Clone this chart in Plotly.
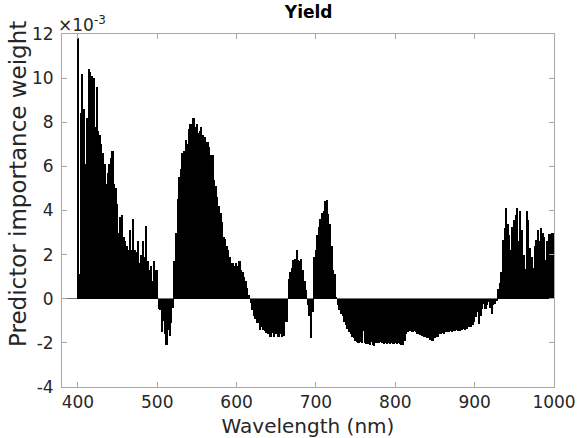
import numpy as np
import plotly.graph_objects as go

# wavelengths 400..1000 nm, 2 nm step
wavelength = np.arange(400, 1001, 2)

# predictor importance weight, in units of 1e-3
weight_e3 = [
    11.8, 1.1, 8.4, 10.2, 8.6, 6.1, 8.2, 10.4, 10.3, 10.1,
    10.0, 7.8, 9.6, 7.6, 7.4, 7.0, 6.6, 6.1, 5.2, 5.7,
    6.1, 6.4, 6.7, 5.2, 5.0, 4.3, 3.0, 3.7, 3.8, 2.8,
    2.6, 2.4, 2.2, 3.1, 2.2, 3.6, 2.2, 2.1, 2.6, 1.6,
    2.0, 2.6, 1.9, 3.3, 1.7, 1.3, 1.5, 0.8, 1.7, 1.3,
    # 500
    1.3, -0.45, -0.5, -1.5, -1.0, -1.6, -2.1, -1.4, -1.7, -1.1,
    -0.4, 1.7, 3.0, 4.5, 5.5, 5.9, 6.6, 6.7, 7.2, 7.0,
    7.7, 7.9, 7.9, 8.2, 7.8, 7.9, 7.5, 7.6, 7.8, 7.4,
    7.35, 7.1, 7.1, 6.9, 6.5, 6.5, 5.4, 5.1, 4.6, 4.2,
    3.9, 3.5, 2.8, 2.7, 2.4, 2.2, 1.9, 1.6, 1.6, 1.5,
    # 600
    1.6, 1.5, 1.7, 1.3, 1.2, 1.0, 0.8, 0.5, 0.15, -0.2,
    -0.5, -0.8, -0.9, -1.1, -1.1, -1.4, -1.3, -1.4, -1.45, -1.55,
    -1.6, -1.75, -1.75, -1.55, -1.75, -1.6, -1.75, -1.75, -1.6, -1.75,
    -1.7, -1.05, -1.05, 0.9, 1.2, 1.4, 1.75, 1.8, 2.2, 1.75,
    1.7, 1.8, 1.3, 0.8, 0.4, -0.3, -0.8, -1.8, -0.6, 1.9,
    # 700
    2.2, 2.9, 3.25, 3.6, 3.9, 4.0, 4.45, 4.47, 3.85, 3.4,
    2.4, 1.3, 1.1, 0.05, -0.3, -0.5, -0.7, -0.8, -1.05, -1.2,
    -1.35, -1.5, -1.6, -1.75, -1.8, -1.9, -1.95, -2.0, -1.95, -2.0,
    -1.45, -2.0, -2.05, -2.07, -2.1, -1.97, -2.1, -2.15, -2.0, -2.0,
    -2.0, -1.95, -2.0, -2.05, -2.0, -2.05, -2.0, -2.05, -2.0, -2.05,
    # 800
    -2.0, -2.05, -2.0, -2.05, -2.1, -2.1, -1.9, -1.6, -1.5, -1.45,
    -1.45, -1.5, -1.45, -1.5, -1.6, -1.6, -1.65, -1.7, -1.75, -1.75,
    -1.8, -1.8, -1.85, -1.9, -1.9, -1.8, -1.75, -1.75, -1.6, -1.6,
    -1.55, -1.6, -1.5, -1.5, -1.5, -1.45, -1.5, -1.45, -1.45, -1.4,
    -1.45, -1.45, -1.4, -1.35, -1.4, -1.35, -1.3, -1.3, -1.3, -1.2,
    # 900
    -1.06, -0.83, -0.6, -1.14, -0.76, -0.45, -0.25, -0.45, -0.3, -0.15,
    -0.4, -0.7, -0.3, -0.25, -0.1, 0.45, 0.7, 1.2, 2.65, 3.2,
    4.1, 3.4, 2.9, 2.2, 3.25, 3.55, 3.8, 4.1, 2.6, 4.0,
    3.1, 2.0, 1.35, 4.0, 3.55, 2.3, 1.9, 1.4, 2.4, 2.65,
    3.1, 2.6, 3.2, 3.0, 2.8, 1.75, 2.6, 2.95, 2.95, 3.0,
    3.0,
]

x_ticks = [400, 500, 600, 700, 800, 900, 1000]
y_ticks = [-4, -2, 0, 2, 4, 6, 8, 10, 12]
y_labels = ["-4", "-2", "0", "2", "4", "6", "8", "10", "12"]

font = "DejaVu Sans"
axis_grey = "#a8a8a8"
text_col = "#262626"

fig = go.Figure()
fig.add_trace(go.Bar(
    x=wavelength,
    y=weight_e3,
    width=2,
    marker=dict(color="black", line=dict(width=0)),
    showlegend=False,
))

fig.update_layout(
    width=577,
    height=438,
    margin=dict(l=62, r=23, t=34, b=51),
    paper_bgcolor="white",
    plot_bgcolor="white",
    bargap=0,
    font=dict(family=font, size=17, color=text_col),
    title=dict(text="<b>Yield</b>", x=0.535, xanchor="center", y=0.972, yanchor="middle",
               font=dict(family=font, size=17, color="black")),
)

fig.update_xaxes(
    range=[380, 1000],
    tickvals=x_ticks,
    ticks="inside", ticklen=5, tickcolor=axis_grey,
    showline=True, linecolor=axis_grey, linewidth=1, mirror="ticks",
    showgrid=False, zeroline=False, automargin=False,
    tickfont=dict(size=17),
    title=dict(text="Wavelength (nm)", font=dict(size=20), standoff=7),
)
fig.update_yaxes(
    range=[-4, 12],
    tickvals=y_ticks, ticktext=y_labels,
    ticks="inside", ticklen=5, tickcolor=axis_grey,
    showline=True, linecolor=axis_grey, linewidth=1, mirror="ticks",
    showgrid=False, automargin=False,
    zeroline=True, zerolinecolor="#707070", zerolinewidth=1,
    tickfont=dict(size=17), ticklabelstandoff=4,
)

# y title sits a little above the axis middle in the original
fig.add_annotation(
    text="Predictor importance weight", xref="paper", yref="paper",
    x=0, y=0.575, xanchor="center", yanchor="middle", xshift=-44,
    textangle=-90, showarrow=False,
    font=dict(family=font, size=23, color=text_col),
)

fig.add_annotation(
    text="\u00d710<sup>-3</sup>", xref="paper", yref="paper",
    x=0.0, y=1.0, xanchor="left", yanchor="bottom", xshift=-6, yshift=-3,
    showarrow=False, font=dict(family=font, size=17, color=text_col),
)

fig.write_html("out.html", config={"displayModeBar": False},
               post_script="document.body.style.margin='0';")
